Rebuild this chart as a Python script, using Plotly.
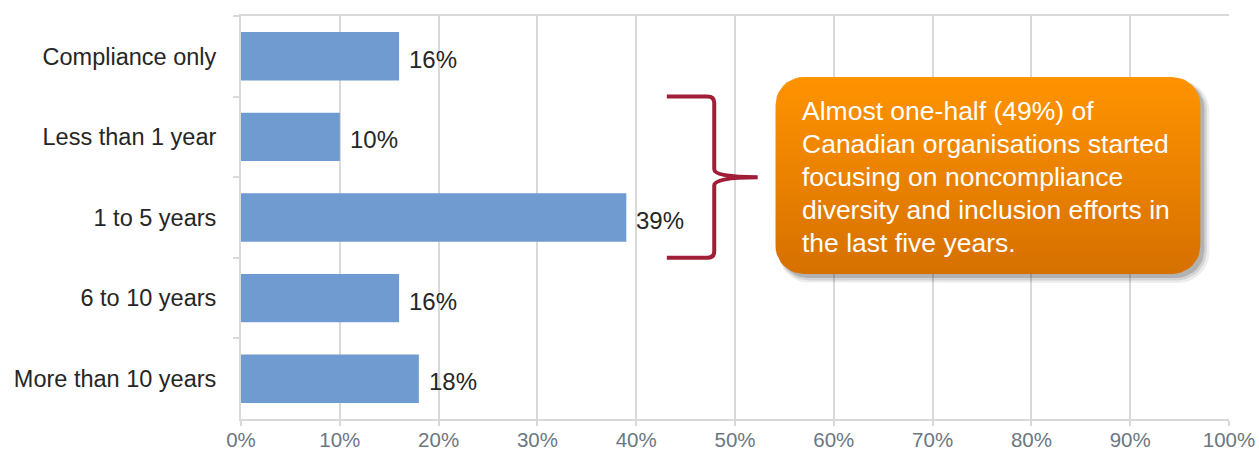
import math
import plotly.graph_objects as go

# Survey results: how long organisations have focused on diversity & inclusion
categories = ["Compliance only", "Less than 1 year", "1 to 5 years",
              "6 to 10 years", "More than 10 years"]
shares = [16, 10, 39, 16, 18]
x_ticks = list(range(0, 101, 10))
x_tick_labels = [f"{v}%" for v in x_ticks]

callout_lines = ["Almost one-half (49%) of",
                 "Canadian organisations started",
                 "focusing on noncompliance",
                 "diversity and inclusion efforts in",
                 "the last five years."]

W, H = 1259, 451
M = dict(l=241, r=30, t=16, b=32)
PX_PER_X = (W - M["l"] - M["r"]) / 100.0          # pixels per percentage point
PX_PER_Y = (H - M["t"] - M["b"]) / len(categories)  # pixels per category band

BAR = "#6F9BD1"
GRID = "#D9D9D9"
FONT = "Liberation Sans, Arial, sans-serif"

fig = go.Figure()
fig.add_trace(go.Bar(
    x=shares, y=categories, orientation="h",
    marker=dict(color=BAR, line=dict(width=0)),
    width=0.6, hoverinfo="skip", showlegend=False,
))

# value labels just past the end of each bar
for cat, v in zip(categories, shares):
    fig.add_annotation(x=v, y=cat, xref="x", yref="y", text=f"{v}%",
                       showarrow=False, xanchor="left", xshift=8, yshift=-3,
                       font=dict(family=FONT, size=24, color="#262626"))


def rounded_rect(x0, x1, y0, y1, r_px, n=10):
    """Closed outline of a rounded rectangle in (x %, y band) units."""
    rx, ry = r_px / PX_PER_X, r_px / PX_PER_Y
    corners = [(x1 - rx, y0 + ry, -90), (x1 - rx, y1 - ry, 0),
               (x0 + rx, y1 - ry, 90), (x0 + rx, y0 + ry, 180)]
    xs, ys = [], []
    for cx, cy, a0 in corners:
        for k in range(n + 1):
            a = math.radians(a0 + 90 * k / n)
            xs.append(cx + rx * math.cos(a))
            ys.append(cy + ry * math.sin(a))
    xs.append(xs[0]); ys.append(ys[0])
    return xs, ys


# callout box bounds
bx0, bx1 = 54.1, 97.1
by0, by1 = 0.257, 2.70

# soft drop shadow
for off, grow, alpha in [(6, 3, 0.07), (5, 1.5, 0.10), (4, 0, 0.16)]:
    dx, dy = off / PX_PER_X, off / PX_PER_Y
    gx, gy = grow / PX_PER_X, grow / PX_PER_Y
    sx, sy = rounded_rect(bx0 + dx - gx, bx1 + dx + gx,
                          by0 + dy - gy, by1 + dy + gy, 28 + grow)
    fig.add_trace(go.Scatter(x=sx, y=sy, xaxis="x", yaxis="y2", mode="lines",
                             fill="toself", fillcolor=f"rgba(0,0,0,{alpha})",
                             line=dict(width=0), hoverinfo="skip", showlegend=False))

bxs, bys = rounded_rect(bx0, bx1, by0, by1, 28)
fig.add_trace(go.Scatter(
    x=bxs, y=bys, xaxis="x", yaxis="y2", mode="lines", fill="toself",
    fillgradient=dict(type="vertical", start=by0, stop=by1,
                      colorscale=[[0, "#FF9300"], [1, "#D67000"]]),
    line=dict(width=0), hoverinfo="skip", showlegend=False,
))

# callout text, one annotation per line for tighter leading
line_step = 33 / PX_PER_Y
first_line = 1.5 - line_step * (len(callout_lines) - 1) / 2
for i, line in enumerate(callout_lines):
    fig.add_annotation(x=56.6, y=first_line + i * line_step, xref="x", yref="y2",
                       text=line, showarrow=False, xanchor="left", yanchor="middle",
                       align="left",
                       font=dict(family=FONT, size=26.5, color="#FFFFFF"))

# curly bracket grouping "Less than 1 year" and "1 to 5 years"
bracket = ("M 43.1,0.5 L 47.2,0.5 Q 47.9,0.5 47.9,0.58 L 47.9,1.4 "
           "Q 47.9,1.5 52.3,1.5 Q 47.9,1.5 47.9,1.6 L 47.9,2.42 "
           "Q 47.9,2.5 47.2,2.5 L 43.1,2.5")
fig.add_shape(type="path", path=bracket, xref="x", yref="y2",
              line=dict(color="#A01F36", width=4), layer="above")

fig.update_layout(
    width=W, height=H, margin=M,
    paper_bgcolor="white", plot_bgcolor="white",
    font=dict(family=FONT),
    bargap=0.4,
    xaxis=dict(range=[0, 100], tickvals=x_ticks, ticktext=x_tick_labels,
               showgrid=True, gridcolor=GRID, gridwidth=2,
               showline=True, linecolor=GRID, linewidth=2, mirror=True,
               ticks="outside", ticklen=5, tickcolor=GRID, tickwidth=2,
               ticklabelstandoff=-4,
               tickfont=dict(family=FONT, size=20.5, color="#6B7782"),
               zeroline=False, fixedrange=True, automargin=False),
    yaxis=dict(type="category", categoryorder="array", categoryarray=categories,
               range=[4.5, -0.5], tickson="boundaries",
               showgrid=False, showline=True, linecolor=GRID, linewidth=2,
               ticks="outside", ticklen=6, tickcolor=GRID, tickwidth=2,
               ticklabelstandoff=18,
               tickfont=dict(family=FONT, size=23.5, color="#262626"),
               fixedrange=True, automargin=False),
    yaxis2=dict(overlaying="y", range=[4.5, -0.5], visible=False,
                showgrid=False, zeroline=False, fixedrange=True),
)

fig.write_html("out.html")
